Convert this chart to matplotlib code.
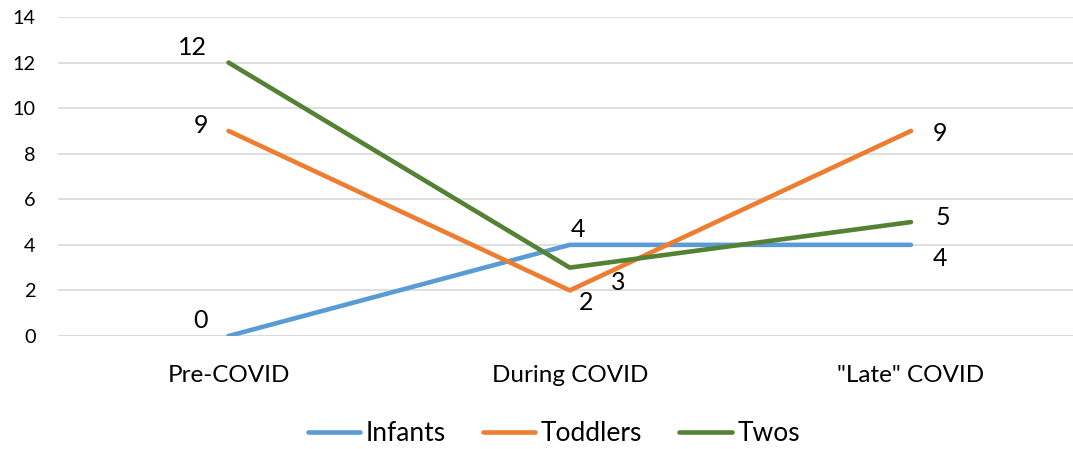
import matplotlib.pyplot as plt
import numpy as np

plt.rcParams['font.family'] = ['Lato', 'DejaVu Sans']

categories = ['Pre-COVID', 'During COVID', '"Late" COVID']
infants = [0, 4, 4]
toddlers = [9, 2, 9]
twos = [12, 3, 5]

series_names = ['Infants', 'Toddlers', 'Twos']
colors = ['#5B9BD5', '#ED7D31', '#548235']
# label offsets in points for each series / point
offsets = [
    [(-20, 11), (6, 11), (21, -10)],
    [(-20, 4), (12, -9), (21, -2)],
    [(-26, 11), (35, -11), (23, 3)],
]

fig = plt.figure(figsize=(10.73, 4.49), dpi=100)
# the plot area runs past the right edge of the image, as in the source
ax = fig.add_axes([0.054, 0.2517, 0.954, 0.7104])

x = np.arange(len(categories))
for vals, name, c, offs in zip([infants, toddlers, twos], series_names, colors, offsets):
    ax.plot(x, vals, color=c, linewidth=3.3, label=name, solid_capstyle='round')
    for xi, v, o in zip(x, vals, offs):
        ax.annotate(str(v), (xi, v), xytext=o, textcoords='offset points',
                    ha='center', va='center', fontsize=18, color='#000000')

ax.set_xlim(-0.5, 2.5)
ax.set_ylim(0, 14)
ax.set_yticks(np.arange(0, 15, 2))
ax.set_xticks(x)
ax.set_xticklabels(categories, fontsize=17.5)
ax.tick_params(axis='both', length=0, colors='#000000')
ax.tick_params(axis='y', labelsize=14.3, pad=16)
ax.tick_params(axis='x', pad=21)
ax.grid(axis='y', color='#D9D9D9', linewidth=1.2)
ax.set_axisbelow(True)
for s in ax.spines.values():
    s.set_visible(False)
ax.axhline(0, color='#D9D9D9', linewidth=1.2, zorder=0)

fig.legend(loc='lower center', bbox_to_anchor=(0.516, -0.047), ncol=3, frameon=False,
           fontsize=19, handlelength=2.0, handletextpad=0.2, columnspacing=1.4)

fig.savefig('out.png', dpi=100)
